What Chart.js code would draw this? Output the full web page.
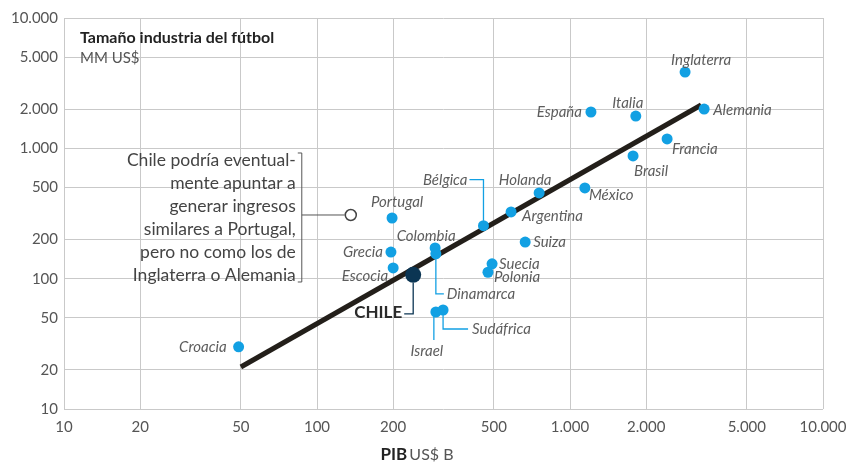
<!DOCTYPE html>
<html>
<head>
<meta charset="utf-8">
<script src="https://cdn.jsdelivr.net/npm/chart.js@4/dist/chart.umd.min.js"></script>
<style>
  html, body { margin: 0; padding: 0; background: #fff; }
  #wrap { width: 849px; height: 464px; }
</style>
</head>
<body>
<div id="wrap"><canvas id="chart"></canvas></div>
<script>
// PIB (US$ B) vs tamaño de la industria del fútbol (MM US$)
const countries = ['Inglaterra', 'Alemania', 'España', 'Italia', 'Francia', 'Brasil', 'México',
  'Holanda', 'Argentina', 'Bélgica', 'Suiza', 'Suecia', 'Polonia', 'Portugal', 'Grecia',
  'Escocia', 'Colombia', 'Dinamarca', 'Israel', 'Sudáfrica', 'Croacia'];
const gdp = [2850, 3390, 1210, 1820, 2420, 1775, 1145, 755, 585, 455, 665, 492, 474, 198, 196,
  200, 293, 295, 295, 315, 49];
const footballSize = [3850, 2000, 1900, 1770, 1180, 875, 497, 455, 325, 255, 191, 130, 112, 292, 160,
  121, 172, 155, 55.5, 57.5, 30];

const chile = { gdp: 240, size: 107 };
const chilePotential = { gdp: 136, size: 308 };
const trendGdp = [50, 3300];
const trendSize = [21, 2150];

const tickValues = [10, 20, 50, 100, 200, 500, 1000, 2000, 5000, 10000];

// label placement around each point: [dx, dy, align]
const labelPlacement = {
  'Inglaterra': [16, -12, 'center'],
  'Alemania': [9, 1, 'left'],
  'España': [-9, 0, 'right'],
  'Italia': [-8, -13, 'center'],
  'Francia': [5, 10, 'left'],
  'Brasil': [1, 15, 'left'],
  'México': [4, 7, 'left'],
  'Holanda': [-14, -13, 'center'],
  'Argentina': [11, 4, 'left'],
  'Bélgica': [-16, -46, 'right'],
  'Suiza': [8, 0, 'left'],
  'Suecia': [7, 0, 'left'],
  'Polonia': [6, 5, 'left'],
  'Portugal': [5, -16, 'center'],
  'Grecia': [-8, 0, 'right'],
  'Escocia': [-5, 8, 'right'],
  'Colombia': [-9, -12, 'center'],
  'Dinamarca': [11, 40, 'left'],
  'Israel': [-9, 39, 'center'],
  'Sudáfrica': [29, 19, 'left'],
  'Croacia': [-12, 0, 'right']
};

const note = ['Chile podría eventual-', 'mente apuntar a', 'generar ingresos',
  'similares a Portugal,', 'pero no como los de', 'Inglaterra o Alemania'];

const BLUE = '#12a0e3';
const NAVY = '#0b3553';
const LABEL = '#5d5d5d';

function fmt(v) {
  return String(v).replace(/\B(?=(\d{3})+(?!\d))/g, '.');
}

const points = countries.map((c, i) => ({ x: gdp[i], y: footballSize[i], name: c }));

const annotations = {
  id: 'annotations',
  afterDatasetsDraw(chart) {
    const ctx = chart.ctx;
    const xs = chart.scales.x, ys = chart.scales.y;
    const px = v => xs.getPixelForValue(v);
    const py = v => ys.getPixelForValue(v);
    const pos = {};
    points.forEach(p => { pos[p.name] = { x: px(p.x), y: py(p.y) }; });

    ctx.save();

    // leader lines
    ctx.strokeStyle = BLUE;
    ctx.lineWidth = 1.3;
    const leader = (pts) => {
      ctx.beginPath();
      ctx.moveTo(pts[0][0], pts[0][1]);
      pts.slice(1).forEach(q => ctx.lineTo(q[0], q[1]));
      ctx.stroke();
    };
    let b = pos['Bélgica'];
    leader([[b.x, b.y - 5], [b.x, b.y - 46], [b.x - 14, b.y - 46]]);
    let d = pos['Dinamarca'];
    leader([[d.x, d.y + 5], [d.x, d.y + 40], [d.x + 8, d.y + 40]]);
    let s = pos['Sudáfrica'];
    leader([[s.x, s.y + 5], [s.x, s.y + 19], [s.x + 25, s.y + 19]]);
    let is = pos['Israel'];
    leader([[is.x - 2, is.y + 5], [is.x - 2, is.y + 28]]);

    // Chile leader
    const cx = px(chile.gdp), cy = py(chile.size);
    ctx.strokeStyle = NAVY;
    leader([[cx, cy + 8], [cx, cy + 39], [cx - 9, cy + 39]]);

    // country labels
    ctx.font = 'italic 15px Lato';
    ctx.fillStyle = LABEL;
    ctx.textBaseline = 'middle';
    countries.forEach(c => {
      const [dx, dy, align] = labelPlacement[c];
      ctx.textAlign = align;
      ctx.fillText(c, pos[c].x + dx, pos[c].y + dy);
    });

    ctx.font = 'bold 17px Lato';
    ctx.fillStyle = '#2a2a2a';
    ctx.textAlign = 'right';
    ctx.fillText('CHILE', cx - 11, cy + 38);

    // note with bracket
    const ox = px(chilePotential.gdp), oy = py(chilePotential.size);
    ctx.strokeStyle = '#555';
    ctx.lineWidth = 1;
    ctx.beginPath();
    ctx.moveTo(ox - 53, oy - 62);
    ctx.lineTo(ox - 49, oy - 62);
    ctx.lineTo(ox - 49, oy + 67);
    ctx.lineTo(ox - 53, oy + 67);
    ctx.moveTo(ox - 49, oy);
    ctx.lineTo(ox - 6, oy);
    ctx.stroke();

    ctx.font = '17.5px Lato';
    ctx.fillStyle = '#444';
    ctx.textAlign = 'right';
    note.forEach((line, i) => {
      ctx.fillText(line, ox - 55, oy - 55 + i * 23);
    });

    // header inside plot
    const left = chart.chartArea.left;
    ctx.textAlign = 'left';
    ctx.font = 'bold 16px Lato';
    ctx.fillStyle = '#222';
    ctx.fillText('Tamaño industria del fútbol', left + 16, 38);
    ctx.font = '15px Lato';
    ctx.fillStyle = '#555';
    ctx.fillText('MM US$', left + 16, 58);

    // x axis title: bold + regular parts
    ctx.font = 'bold 17px Lato';
    const w1 = ctx.measureText('PIB ').width;
    ctx.font = '16px Lato';
    const w2 = ctx.measureText('US$ B').width;
    let tx = 418 - (w1 + w2) / 2;
    ctx.font = 'bold 17px Lato';
    ctx.fillStyle = '#222';
    ctx.fillText('PIB', tx, 455);
    ctx.font = '16px Lato';
    ctx.fillStyle = '#555';
    ctx.fillText('US$ B', tx + w1 - 2, 455);

    ctx.restore();
  }
};

const baseTicks = {
  color: '#555',
  font: { family: 'Lato', size: 15 },
  autoSkip: false,
  maxRotation: 0,
  callback: v => fmt(v)
};

const logAxis = (extra) => Object.assign({
  type: 'logarithmic',
  min: 10,
  max: 10000,
  afterBuildTicks(scale) {
    scale.ticks = tickValues.map(v => ({ value: v }));
  },
  grid: { color: '#c9c9c9', lineWidth: 1, drawTicks: false },
  border: { display: false }
}, extra);

new Chart(document.getElementById('chart'), {
  type: 'scatter',
  data: {
    datasets: [
      {
        type: 'line',
        data: trendGdp.map((g, i) => ({ x: g, y: trendSize[i] })),
        borderColor: '#231f1a',
        borderWidth: 5,
        pointRadius: 0,
        order: 3
      },
      {
        data: points,
        backgroundColor: BLUE,
        borderWidth: 0,
        pointRadius: 5.5,
        order: 2
      },
      {
        data: [{ x: chile.gdp, y: chile.size }],
        backgroundColor: NAVY,
        borderWidth: 0,
        pointRadius: 8,
        order: 1
      },
      {
        data: [{ x: chilePotential.gdp, y: chilePotential.size }],
        backgroundColor: '#fff',
        borderColor: '#444',
        borderWidth: 1.5,
        pointRadius: 5.5,
        order: 1
      }
    ]
  },
  options: {
    responsive: true,
    maintainAspectRatio: false,
    animation: false,
    layout: { padding: { top: 18, right: 26, left: 0, bottom: 0 } },
    plugins: { legend: { display: false }, tooltip: { enabled: false } },
    scales: {
      x: logAxis({
        position: 'bottom',
        afterFit(scale) {
          scale.height = 55;
          scale.paddingLeft = 0;
          scale.paddingRight = 0;
        },
        ticks: Object.assign({}, baseTicks, { padding: 9 })
      }),
      y: logAxis({
        position: 'left',
        afterFit(scale) {
          scale.width = 64;
          scale.paddingTop = 0;
          scale.paddingBottom = 0;
        },
        ticks: Object.assign({}, baseTicks, { padding: 6 })
      })
    }
  },
  plugins: [annotations]
});
</script>
</body>
</html>
